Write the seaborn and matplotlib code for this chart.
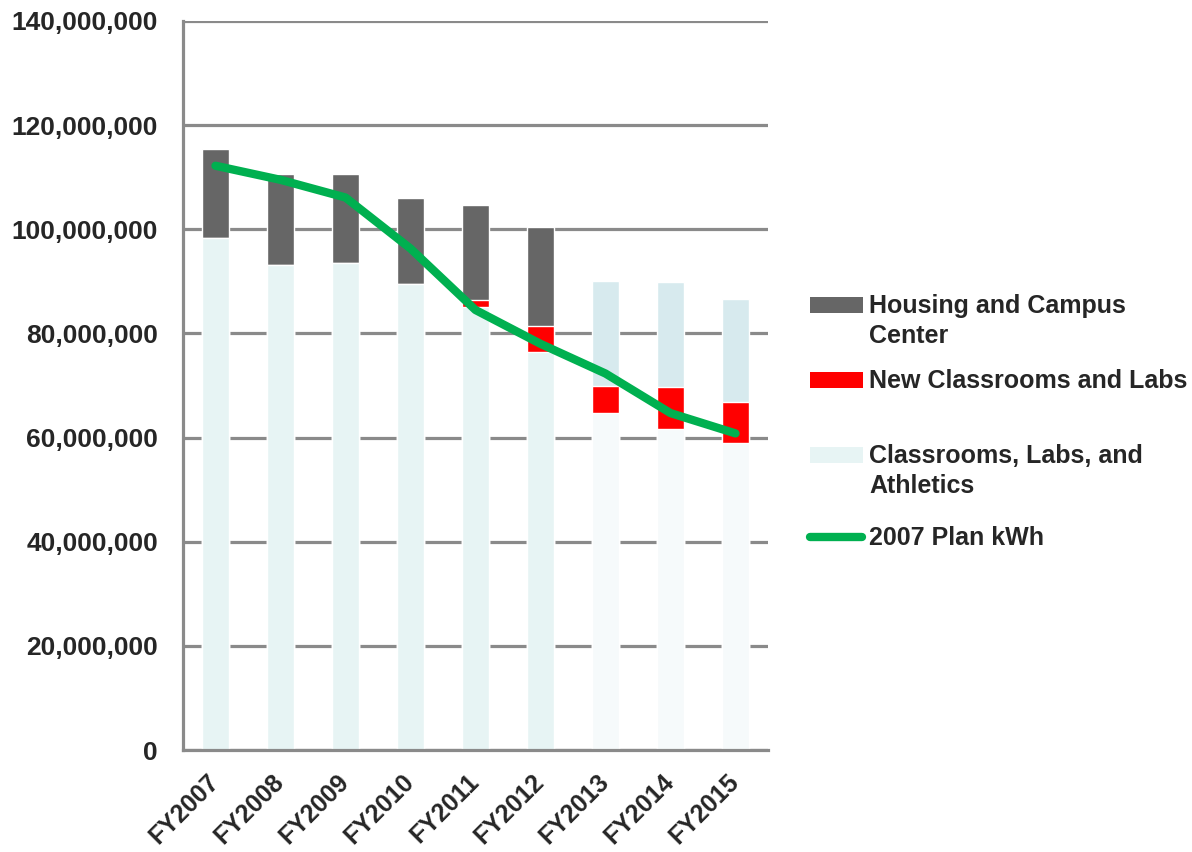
import numpy as np
import pandas as pd
import matplotlib
matplotlib.use("Agg")
import matplotlib.pyplot as plt
import seaborn as sns
from matplotlib.patches import Rectangle
from matplotlib.lines import Line2D
from matplotlib.ticker import FuncFormatter, FixedLocator

# data (kWh, millions)
years = ["FY2007", "FY2008", "FY2009", "FY2010", "FY2011",
         "FY2012", "FY2013", "FY2014", "FY2015"]
classrooms = [98.3, 93.1, 93.6, 89.4, 85.0, 76.4, 64.8, 61.6, 59.0]
new_classrooms = [0, 0, 0, 0, 1.5, 5.1, 5.2, 8.1, 7.8]
housing = [17.1, 17.5, 17.0, 16.7, 18.1, 18.9, 20.1, 20.2, 19.9]
plan_2007 = [112.2, 109.5, 106.1, 96.3, 84.5, 78.0, 72.3, 64.7, 60.8]

df = pd.DataFrame({"year": years,
                   "classrooms": np.array(classrooms) * 1e6,
                   "new": np.array(new_classrooms) * 1e6,
                   "housing": np.array(housing) * 1e6,
                   "plan": np.array(plan_2007) * 1e6})
df["pos"] = range(len(df))
df["lower2"] = df["classrooms"] + df["new"]
df["total"] = df["lower2"] + df["housing"]

DARK = "#666666"
RED = "#ff0000"
LIGHT = "#e7f4f4"
LIGHTER = "#f6fafb"
TOPBLUE = "#d7eaee"
GREEN = "#00b050"
GRID = "#8a8a8a"

# later years use a lighter colouring
later = df["year"].isin(["FY2013", "FY2014", "FY2015"])
top_colors = [TOPBLUE if l else DARK for l in later]
base_colors = [LIGHTER if l else LIGHT for l in later]

sns.set_style("white")
plt.rcParams["font.family"] = ["Liberation Sans", "DejaVu Sans"]
plt.rcParams["font.weight"] = "bold"

fig = plt.figure(figsize=(11.92, 8.52), dpi=100)
ax = fig.add_axes([183 / 1192, 102 / 852, 585 / 1192, 729 / 852])

W = 0.42
sns.barplot(data=df, x="year", y="total", hue="year", palette=top_colors,
            width=W, saturation=1, legend=False, ax=ax, zorder=2)
sns.barplot(data=df, x="year", y="lower2", color=RED,
            width=W, saturation=1, ax=ax, zorder=2)
sns.barplot(data=df, x="year", y="classrooms", hue="year", palette=base_colors,
            width=W, saturation=1, legend=False, ax=ax, zorder=2)
sns.lineplot(data=df, x="pos", y="plan", color=GREEN, linewidth=6,
             solid_capstyle="round", solid_joinstyle="round", ax=ax, zorder=4)

ax.set_xlim(-0.5, len(years) - 0.5)
ax.set_ylim(0, 140e6)
ax.set_yticks(np.arange(0, 140e6 + 1, 20e6))
ax.yaxis.set_major_formatter(FuncFormatter(lambda v, p: f"{v:,.0f}"))
ax.yaxis.grid(True, color=GRID, linewidth=2.3)
ax.set_axisbelow(True)
ax.set_xlabel("")
ax.set_ylabel("")

for s in ["top", "right"]:
    ax.spines[s].set_visible(False)
for s in ["left", "bottom"]:
    ax.spines[s].set_color(GRID)
    ax.spines[s].set_linewidth(2.3)

ax.tick_params(axis="y", direction="out", length=6, width=1.8, color=GRID,
               pad=12, labelsize=19)
ax.set_xticks(range(len(years)))
ax.set_xticklabels(years, rotation=45, ha="right", va="center",
                   rotation_mode="anchor", fontsize=18, fontweight="bold")
ax.tick_params(axis="x", which="major", length=0, pad=20)
ax.xaxis.set_minor_locator(FixedLocator(np.arange(-0.5, len(years), 1.0)))
ax.tick_params(axis="x", which="minor", direction="out", length=7,
               width=2.3, color=GRID)
for lab in ax.get_yticklabels():
    lab.set_fontweight("bold")

# legend drawn by hand to keep Excel's uneven spacing
H, Wd = 852.0, 1192.0
def fx(px):
    return px / Wd
def fy(py):
    return 1 - py / H

entries = [(DARK, 305, ["Housing and Campus", "Center"]),
           (RED, 380, ["New Classrooms and Labs"]),
           (LIGHT, 455, ["Classrooms, Labs, and", "Athletics"])]
for col, yc, lines in entries:
    fig.add_artist(Rectangle((fx(810), fy(yc + 8)), fx(53), 16 / H,
                             transform=fig.transFigure, color=col, lw=0))
    for i, t in enumerate(lines):
        fig.text(fx(869), fy(yc + 1 + i * 30), t, fontsize=18,
                 fontweight="bold", va="center", ha="left")
fig.add_artist(Line2D([fx(810), fx(862)], [fy(537), fy(537)],
                      transform=fig.transFigure, color=GREEN, lw=6,
                      solid_capstyle="round"))
fig.text(fx(869), fy(538), "2007 Plan kWh", fontsize=18,
         fontweight="bold", va="center", ha="left")

fig.savefig("out.png", dpi=100)
